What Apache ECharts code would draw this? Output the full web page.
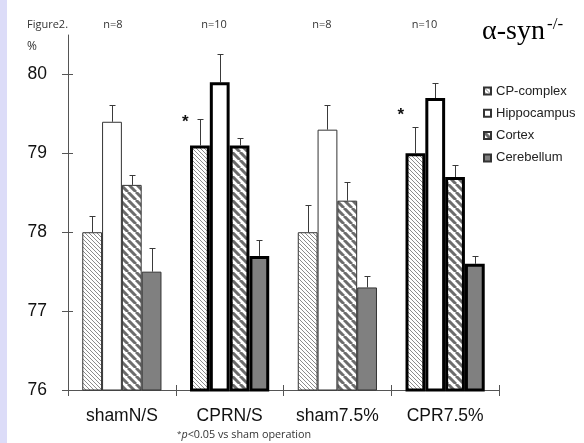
<!DOCTYPE html>
<html><head><meta charset="utf-8">
<script src="https://cdn.jsdelivr.net/npm/echarts@6/dist/echarts.min.js"></script>
<style>html,body{margin:0;padding:0;background:#fff}#c{width:584px;height:443px}</style>
</head><body><div id="c"></div>
<script>
// ---- data ----
const categories = ['shamN/S', 'CPRN/S', 'sham7.5%', 'CPR7.5%'];
const regions = ['CP-complex', 'Hippocampus', 'Cortex', 'Cerebellum'];
const cpComplex = [78.0, 79.1, 78.0, 79.0];
const hippocampus = [79.4, 79.9, 79.3, 79.7];
const cortex = [78.6, 79.1, 78.4, 78.7];
const cerebellum = [77.5, 77.7, 77.3, 77.6];
const cpComplexErr = [0.21, 0.33, 0.34, 0.34];
const hippocampusErr = [0.21, 0.36, 0.31, 0.19];
const cortexErr = [0.13, 0.10, 0.24, 0.15];
const cerebellumErr = [0.30, 0.20, 0.14, 0.10];
const groupN = ['n=8', 'n=10', 'n=8', 'n=10'];
const asteriskAt = [null, 79.45, null, 79.53]; // y value of the * marks (CP-complex)
const yTicks = [76, 77, 78, 79, 80];

// ---- styling ----
const values = [cpComplex, hippocampus, cortex, cerebellum];
const errs = [cpComplexErr, hippocampusErr, cortexErr, cerebellumErr];
const GAP = 0.265;

function hatch(size, lw, color, bg) {
  const c = document.createElement('canvas'); c.width = c.height = size;
  const g = c.getContext('2d');
  g.fillStyle = bg; g.fillRect(0, 0, size, size);
  g.strokeStyle = color; g.lineWidth = lw;
  g.beginPath();
  for (let k = -1; k <= 1; k++) { g.moveTo(k * size, 0); g.lineTo(k * size + size, size); }
  g.stroke();
  return c;
}
const fills = [
  { image: hatch(4, 1, '#8c8c8c', '#ffffff'), repeat: 'repeat' },
  '#ffffff',
  { image: hatch(8, 3, '#6c6c6c', '#ffffff'), repeat: 'repeat' },
  '#808080'
];

const barSeries = regions.map((name, s) => ({
  name, type: 'bar', barGap: '0%', barCategoryGap: (GAP * 100) + '%', z: 3,
  itemStyle: { color: fills[s], borderColor: '#333', borderWidth: 1 },
  data: values[s].map((v, c) => {
    const thick = categories[c].startsWith('CPR');
    return { value: v, itemStyle: { borderColor: thick ? '#000' : '#333', borderWidth: thick ? 3 : 1 } };
  })
}));

const errData = [];
values.forEach((arr, s) => arr.forEach((v, c) => errData.push([c, s, v, errs[s][c]])));

const errSeries = {
  type: 'custom', z: 2, silent: true,
  data: errData,
  renderItem(params, api) {
    const c = api.value(0), s = api.value(1), v = api.value(2), e = api.value(3);
    const band = api.size([1, 0])[0];
    const bw = band * (1 - GAP) / 4;
    const cx = Math.round(api.coord([c, v])[0] - 2 * bw + (s + 0.5) * bw) + 0.5;
    const yb = api.coord([c, v])[1];
    const yt = Math.round(api.coord([c, v + e])[1]) + 0.5;
    const st = { stroke: '#3a3a3a', lineWidth: 1 };
    return { type: 'group', children: [
      { type: 'line', shape: { x1: cx, y1: yb, x2: cx, y2: yt }, style: st },
      { type: 'line', shape: { x1: cx - 3, y1: yt, x2: cx + 3, y2: yt }, style: st }
    ] };
  }
};

const starData = [];
asteriskAt.forEach((y, c) => { if (y != null) starData.push([c, y]); });
const starSeries = {
  type: 'custom', z: 4, silent: true, data: starData,
  renderItem(params, api) {
    const c = api.value(0), y = api.value(1);
    const band = api.size([1, 0])[0];
    const bw = band * (1 - GAP) / 4;
    const p = api.coord([c, y]);
    const cx = p[0] - 2 * bw + 0.5 * bw - 14.5;
    return { type: 'text', style: { x: cx, y: p[1] + 4, text: '*', fill: '#111',
      font: 'bold 17px "Liberation Sans", Arial', align: 'center', verticalAlign: 'middle' } };
  }
};

const nX = [113, 214, 322, 424.5];
const graphics = [
  { type: 'rect', shape: { x: 0, y: 0, width: 7, height: 443 }, style: { fill: '#dcdcf8' }, z: 0 },
  { type: 'text', style: { x: 27, y: 25, text: 'Figure2.', fill: '#333', font: '11px "Open Sans"', verticalAlign: 'middle' } },
  { type: 'text', style: { x: 27, y: 47, text: '%', fill: '#333', font: '12px "Open Sans"', verticalAlign: 'middle' } },
  ...groupN.map((t, i) => ({ type: 'text', style: { x: nX[i], y: 25, text: t, fill: '#333', font: '11px "Open Sans"', align: 'center', verticalAlign: 'middle' } })),
  { type: 'text', style: { x: 482, y: 32, text: 'α-syn', fill: '#000', font: '28px "Liberation Serif"', verticalAlign: 'middle' } },
  { type: 'text', style: { x: 547, y: 25, text: '-/-', fill: '#000', font: '17px "Liberation Serif"', verticalAlign: 'middle' } },
  { type: 'text', style: { x: 177, y: 435, verticalAlign: 'middle',
      text: '{s|*}{i|p}<0.05 vs sham operation',
      rich: { s: { fontSize: 8, verticalAlign: 'top', fill: '#333', fontFamily: 'Open Sans' },
              i: { fontSize: 10.8, fontStyle: 'italic', fill: '#333', fontFamily: 'Open Sans' } },
      fill: '#333', font: '10.8px "Open Sans"' } }
];

const axisColor = '#555';
const option = {
  animation: false,
  backgroundColor: '#fff',
  grid: { left: 68, right: 85, top: 35, bottom: 53 },
  legend: {
    orient: 'vertical', left: 478, top: 78, icon: 'rect', itemWidth: 7, itemHeight: 7, itemGap: 6.3,
    data: regions,
    textStyle: { fontSize: 13, fontFamily: '"Liberation Sans", Arial', color: '#222', lineHeight: 16 }
  },
  xAxis: [
    { type: 'category', data: categories,
      axisLine: { lineStyle: { color: axisColor } },
      axisTick: { show: true, length: 6, lineStyle: { color: axisColor } },
      axisLabel: { fontSize: 17.5, fontFamily: '"Liberation Sans", Arial', color: '#111', margin: 17 } },
    { type: 'category', data: categories, position: 'bottom',
      axisLine: { show: false },
      axisTick: { show: true, inside: true, length: 5, lineStyle: { color: axisColor } },
      axisLabel: { show: false } }
  ],
  yAxis: [
    { type: 'value', min: 76, max: 80.5, interval: 1,
      splitLine: { show: false },
      axisLine: { show: true, lineStyle: { color: axisColor } },
      axisTick: { show: true, length: 6, customValues: yTicks, lineStyle: { color: axisColor } },
      axisLabel: { customValues: yTicks, fontSize: 17.5, fontFamily: '"Liberation Sans", Arial', color: '#111', margin: 21,
        formatter: v => (Number.isInteger(v) ? String(v) : '') } },
    { type: 'value', min: 76, max: 80.5, interval: 1, position: 'left',
      splitLine: { show: false }, axisLine: { show: false }, axisLabel: { show: false },
      axisTick: { show: true, inside: true, length: 5, customValues: yTicks, lineStyle: { color: axisColor } } }
  ],
  graphic: graphics,
  series: [...barSeries, errSeries, starSeries]
};
const chart = echarts.init(document.getElementById('c'), null, { renderer: 'canvas' });
chart.setOption(option);
</script>
</body></html>
